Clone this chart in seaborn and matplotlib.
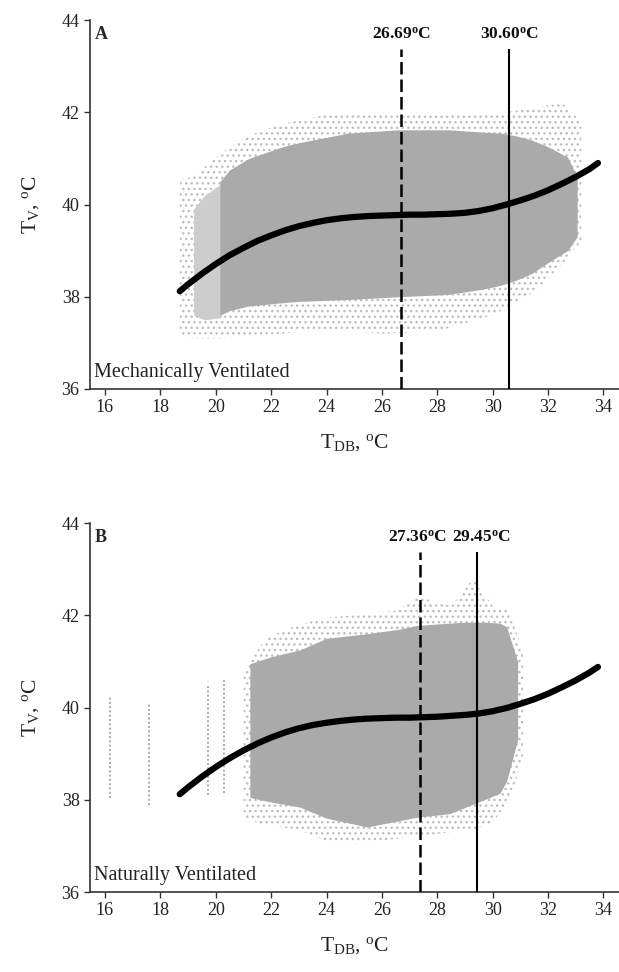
import matplotlib
matplotlib.use("Agg")
import matplotlib.pyplot as plt
import seaborn as sns
import pandas as pd

sns.set_style("ticks")
plt.rcParams['font.family'] = ['Liberation Serif', 'DejaVu Serif']
plt.rcParams['mathtext.fontset'] = 'custom'
plt.rcParams['mathtext.rm'] = 'Liberation Serif'
plt.rcParams['mathtext.bf'] = 'Liberation Serif:bold'
plt.rcParams['mathtext.it'] = 'Liberation Serif:italic'
plt.rcParams['hatch.linewidth'] = 1.0

# ---- fitted curve ----
curve_x = [18.7, 19.0, 19.5, 20.0, 20.5, 21.0, 21.5, 22.0, 22.5, 23.0, 23.5, 24.0,
           24.5, 25.0, 25.5, 26.0, 26.5, 27.0, 27.5, 28.0, 28.5, 29.0, 29.5, 30.0,
           30.5, 31.0, 31.5, 32.0, 32.5, 33.0, 33.5, 33.8]
curve_a = [38.12, 38.27, 38.50, 38.71, 38.90, 39.06, 39.21, 39.33, 39.44, 39.53, 39.60, 39.66,
           39.70, 39.73, 39.75, 39.76, 39.77, 39.78, 39.78, 39.79, 39.80, 39.82, 39.86, 39.92,
           40.00, 40.09, 40.19, 40.31, 40.45, 40.60, 40.77, 40.90]
curve_b = [38.12, 38.27, 38.50, 38.71, 38.90, 39.07, 39.22, 39.35, 39.46, 39.55, 39.62, 39.67,
           39.71, 39.74, 39.76, 39.77, 39.78, 39.78, 39.79, 39.80, 39.82, 39.84, 39.87, 39.92,
           39.99, 40.08, 40.18, 40.30, 40.44, 40.59, 40.76, 40.88]

# ---- dense cloud envelopes ----
dense_a_x = [20.15, 20.5, 21.2, 22.4, 23.0, 24.8, 26.6, 28.4, 29.6, 30.3, 30.9, 31.4, 32.0, 32.7, 33.05]
dense_a_hi = [40.5, 40.75, 41.0, 41.25, 41.34, 41.55, 41.62, 41.62, 41.57, 41.55, 41.48, 41.4, 41.25, 41.03, 40.6]
dense_a_lo = [37.6, 37.7, 37.8, 37.87, 37.9, 37.94, 38.0, 38.05, 38.16, 38.25, 38.37, 38.5, 38.74, 39.0, 39.3]

mid_a_x = [19.2, 19.6, 20.2]
mid_a_hi = [39.9, 40.2, 40.45]
mid_a_lo = [37.6, 37.5, 37.55]

fringe_a_x = [18.7, 19.2, 20.15, 21.2, 22.4, 24.0, 26.0, 28.0, 30.0, 31.5, 32.5, 33.2]
fringe_a_hi = [40.55, 40.6, 41.1, 41.5, 41.75, 41.95, 42.0, 42.0, 41.95, 42.1, 42.2, 41.8]
fringe_a_lo = [37.15, 37.1, 37.1, 37.15, 37.2, 37.3, 37.2, 37.25, 37.6, 38.1, 38.7, 39.2]

dense_b_x = [21.23, 22.0, 23.04, 24.0, 25.46, 26.65, 27.26, 28.45, 29.07, 29.65, 30.26, 30.5, 30.9]
dense_b_hi = [40.95, 41.1, 41.25, 41.5, 41.6, 41.7, 41.78, 41.83, 41.85, 41.85, 41.83, 41.75, 41.0]
dense_b_lo = [38.05, 37.95, 37.84, 37.6, 37.41, 37.55, 37.62, 37.7, 37.85, 37.99, 38.14, 38.4, 39.3]

fringe_b_x = [21.0, 21.8, 23.0, 24.0, 25.0, 26.5, 27.3, 28.5, 29.3, 30.0, 30.6, 31.1]
fringe_b_hi = [40.8, 41.5, 41.8, 41.95, 42.0, 42.1, 42.4, 42.2, 42.8, 42.2, 42.1, 41.2]
fringe_b_lo = [37.6, 37.45, 37.35, 37.1, 37.05, 37.15, 37.2, 37.3, 37.35, 37.5, 38.0, 38.9]

# sparse columns of points in panel B
cols_b_x = [16.18, 17.59, 19.72, 20.30]
cols_b_lo = [38.03, 37.88, 38.10, 38.15]
cols_b_hi = [40.23, 40.10, 40.50, 40.60]

# thresholds
thr_a = [26.69, 30.60]
thr_b = [27.36, 29.45]
thr_labels_a = ["26.69", "30.60"]
thr_labels_b = ["27.36", "29.45"]

panel_letters = ["A", "B"]
panel_names = ["Mechanically Ventilated", "Naturally Ventilated"]
xticks = [16, 18, 20, 22, 24, 26, 28, 30, 32, 34]
yticks = [36, 38, 40, 42, 44]

fig = plt.figure(figsize=(6.19, 9.72), dpi=100)
ax_a = fig.add_axes([0.1454, 0.5998, 0.8546, 0.3796])
ax_b = fig.add_axes([0.1454, 0.0823, 0.8546, 0.3796])

GRAY = '#aaaaaa'
LIGHT = '#bdbdbd'
MID = '#cdcdcd'

panels = [
    (ax_a, curve_a, dense_a_x, dense_a_lo, dense_a_hi, fringe_a_x, fringe_a_lo, fringe_a_hi, thr_a, thr_labels_a, (0.0, 0.0)),
    (ax_b, curve_b, dense_b_x, dense_b_lo, dense_b_hi, fringe_b_x, fringe_b_lo, fringe_b_hi, thr_b, thr_labels_b, (-0.08, 0.14)),
]

for i, (ax, cy, dx, dlo, dhi, fx, flo, fhi, thr, thrl, offs) in enumerate(panels):
    ax.fill_between(fx, flo, fhi, facecolor='none', edgecolor=LIGHT, hatch='...', linewidth=0, zorder=1)
    if i == 0:
        ax.fill_between(mid_a_x, mid_a_lo, mid_a_hi, color=MID, linewidth=0, zorder=1.5)
    ax.fill_between(dx, dlo, dhi, color=GRAY, linewidth=0, zorder=2)
    if i == 1:
        ax.vlines(cols_b_x, cols_b_lo, cols_b_hi, colors=GRAY, linestyles=(0, (1, 1.2)), linewidth=1.4, zorder=2)
    df = pd.DataFrame({'x': curve_x, 'y': cy})
    sns.lineplot(data=df, x='x', y='y', ax=ax, color='black', linewidth=4.5, zorder=5,
                 solid_capstyle='round')
    ax.vlines(thr[0], 36, 43.38, colors='black', linestyles=(0, (5, 2)), linewidth=1.8, zorder=6)
    ax.vlines(thr[1], 36, 43.38, colors='black', linestyles='solid', linewidth=1.5, zorder=6)
    for t, lab, o in zip(thr, thrl, offs):
        ax.text(t + o, 43.5, lab + r"$^{\rm \mathbf{o}}$C", ha='center', va='bottom',
                fontsize=12.5, fontweight='bold', color='#111111')
    ax.text(15.62, 43.88, panel_letters[i], ha='left', va='top', fontsize=13, fontweight='bold')
    ax.text(15.62, 36.15, panel_names[i], ha='left', va='bottom', fontsize=14.5, color='#222222')

    ax.set_xlim(15.46, 34.56)
    ax.set_ylim(36, 44)
    ax.set_xticks(xticks)
    ax.set_yticks(yticks)
    ax.tick_params(direction='out', length=4, width=1.0, labelsize=13, colors='#333333', labelcolor='#222222')
    for s in ['top', 'right']:
        ax.spines[s].set_visible(False)
    for s in ['left', 'bottom']:
        ax.spines[s].set_linewidth(1.2)
        ax.spines[s].set_color('#333333')
    ax.set_xlabel(r"T$_{\rm DB}$, $^{\rm o}$C", fontsize=15.5, color='#222222', labelpad=11)
    ax.set_ylabel(r"T$_{\rm V}$, $^{\rm o}$C", fontsize=15.5, color='#222222', labelpad=15)

fig.savefig("out.png", dpi=100)
